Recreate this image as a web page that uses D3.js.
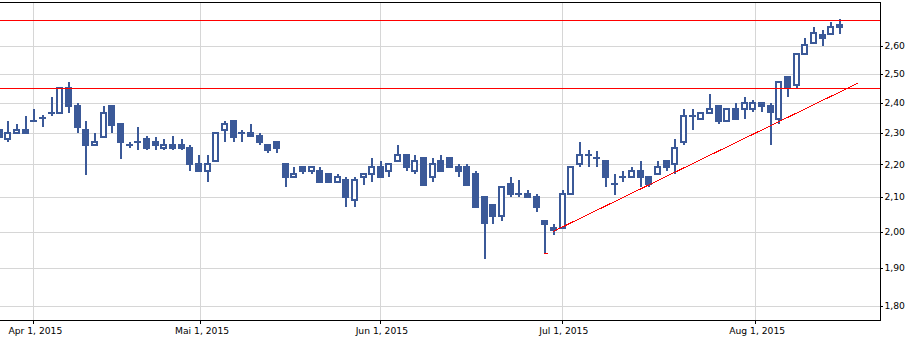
<!DOCTYPE html>
<html>
<head>
<meta charset="utf-8">
<script src="https://cdn.jsdelivr.net/npm/d3@7"></script>
<style>
  html, body { margin: 0; padding: 0; background: #fff; }
  svg { display: block; }
  .axis text { font-family: "DejaVu Sans", Verdana, sans-serif; font-size: 9.2px; fill: #000; }
</style>
</head>
<body>
<svg id="chart" width="923" height="337"></svg>
<script>
// daily candles, 26 Mar 2015 .. 14 Aug 2015 (trading days only)
const opens = [
  2.31, 2.28, 2.30, 2.31, 2.34, 2.35, 2.365, 2.365, 2.45, 2.39,
  2.31, 2.26, 2.285, 2.39, 2.33, 2.26, 2.27, 2.28, 2.27, 2.25,
  2.26, 2.26, 2.25, 2.20, 2.18, 2.21, 2.31, 2.34, 2.30, 2.30,
  2.29, 2.26, 2.27, 2.20, 2.16, 2.19, 2.18, 2.18, 2.17, 2.145,
  2.15, 2.09, 2.16, 2.17, 2.19, 2.18, 2.21, 2.23, 2.18, 2.22,
  2.16, 2.21, 2.22, 2.19, 2.19, 2.17, 2.10, 2.075, 2.045, 2.14,
  2.11, 2.11, 2.10, 2.03, 2.01, 2.01, 2.11, 2.20, 2.23, 2.22,
  2.21, 2.14, 2.16, 2.16, 2.18, 2.16, 2.17, 2.21, 2.20, 2.27,
  2.355, 2.345, 2.365, 2.39, 2.34, 2.38, 2.38, 2.38, 2.40, 2.39,
  2.345, 2.49, 2.46, 2.57, 2.61, 2.64, 2.645, 2.67
];
const highs = [
  2.31, 2.34, 2.33, 2.355, 2.38, 2.36, 2.42, 2.45, 2.47, 2.40,
  2.34, 2.30, 2.39, 2.39, 2.33, 2.27, 2.32, 2.29, 2.285, 2.28,
  2.29, 2.28, 2.26, 2.23, 2.23, 2.30, 2.34, 2.34, 2.31, 2.33,
  2.30, 2.26, 2.27, 2.20, 2.19, 2.19, 2.19, 2.19, 2.17, 2.17,
  2.16, 2.16, 2.17, 2.22, 2.21, 2.20, 2.26, 2.23, 2.23, 2.22,
  2.22, 2.23, 2.22, 2.20, 2.20, 2.18, 2.10, 2.075, 2.13, 2.16,
  2.15, 2.12, 2.11, 2.03, 2.02, 2.12, 2.19, 2.27, 2.245, 2.24,
  2.21, 2.17, 2.18, 2.19, 2.21, 2.16, 2.21, 2.21, 2.28, 2.38,
  2.38, 2.365, 2.43, 2.39, 2.38, 2.40, 2.42, 2.41, 2.40, 2.40,
  2.47, 2.49, 2.57, 2.63, 2.67, 2.66, 2.69, 2.70
];
const lows = [
  2.285, 2.27, 2.30, 2.30, 2.335, 2.32, 2.355, 2.365, 2.365, 2.30,
  2.165, 2.26, 2.285, 2.30, 2.215, 2.25, 2.245, 2.245, 2.245, 2.245,
  2.245, 2.245, 2.18, 2.18, 2.145, 2.21, 2.27, 2.27, 2.27, 2.29,
  2.26, 2.235, 2.235, 2.13, 2.16, 2.17, 2.17, 2.145, 2.145, 2.145,
  2.07, 2.07, 2.135, 2.145, 2.16, 2.16, 2.21, 2.18, 2.17, 2.135,
  2.145, 2.18, 2.19, 2.16, 2.135, 2.07, 1.925, 2.02, 2.03, 2.10,
  2.10, 2.10, 2.055, 1.94, 1.99, 2.01, 2.11, 2.19, 2.19, 2.19,
  2.13, 2.105, 2.145, 2.16, 2.13, 2.13, 2.17, 2.18, 2.17, 2.26,
  2.31, 2.345, 2.365, 2.33, 2.34, 2.345, 2.345, 2.37, 2.37, 2.26,
  2.33, 2.42, 2.45, 2.57, 2.61, 2.60, 2.645, 2.645
];
const closes = [
  2.285, 2.30, 2.31, 2.30, 2.34, 2.35, 2.365, 2.45, 2.39, 2.32,
  2.26, 2.27, 2.365, 2.325, 2.27, 2.26, 2.27, 2.25, 2.26, 2.26,
  2.25, 2.25, 2.20, 2.18, 2.20, 2.30, 2.33, 2.285, 2.30, 2.29,
  2.27, 2.245, 2.25, 2.16, 2.17, 2.18, 2.19, 2.145, 2.145, 2.16,
  2.10, 2.15, 2.17, 2.19, 2.16, 2.20, 2.23, 2.19, 2.21, 2.135,
  2.20, 2.18, 2.19, 2.18, 2.135, 2.07, 2.025, 2.045, 2.13, 2.11,
  2.11, 2.10, 2.07, 2.02, 2.003, 2.11, 2.19, 2.23, 2.23, 2.22,
  2.16, 2.14, 2.16, 2.18, 2.16, 2.14, 2.19, 2.19, 2.25, 2.355,
  2.355, 2.365, 2.38, 2.34, 2.38, 2.345, 2.40, 2.40, 2.39, 2.37,
  2.47, 2.455, 2.57, 2.605, 2.65, 2.63, 2.67, 2.68
];

const firstDay = "2015-03-26";
const holidays = ["2015-04-03", "2015-04-06", "2015-05-01", "2015-06-04"];

const monthTicks = ["2015-04-01", "2015-05-01", "2015-06-01", "2015-07-01", "2015-08-01"];
const monthLabels = ["Apr 1, 2015", "Mai 1, 2015", "Jun 1, 2015", "Jul 1, 2015", "Aug 1, 2015"];
const priceTicks = [1.8, 1.9, 2.0, 2.1, 2.2, 2.3, 2.4, 2.5, 2.6];

// resistance lines and the support trend line (day index, price)
const levels = [2.696, 2.45];
const trendLine = [[64, 2.0], [99.2, 2.467]];
const trendStub = [[63, 1.94], [63.45, 1.937]];

const width = 923;
const height = 337;
const margin = { top: 2.5, right: 42.5, bottom: 16.5, left: 0 };
const plotW = width - margin.left - margin.right;
const plotH = height - margin.top - margin.bottom;

const blue = "#3b5998";
const red = "#ff0000";
const grid = "#d6d6d6";

// trading days
const parse = d3.timeParse("%Y-%m-%d");
const fmt = d3.timeFormat("%Y-%m-%d");
const days = [];
let cur = parse(firstDay);
while (days.length < closes.length) {
  const wd = cur.getDay();
  if (wd !== 0 && wd !== 6 && !holidays.includes(fmt(cur))) days.push(new Date(cur));
  cur = d3.timeDay.offset(cur, 1);
}

// position of a calendar date on the trading-day axis
function dayIndex(date) {
  for (let i = 0; i < days.length - 1; i++) {
    if (date >= days[i] && date <= days[i + 1]) {
      return i + (date - days[i]) / (days[i + 1] - days[i]);
    }
  }
  return days.length - 1;
}

const candles = closes.map((c, i) => ({
  i: i,
  date: days[i],
  open: opens[i],
  high: highs[i],
  low: lows[i],
  close: c,
}));

const svg = d3.select("#chart");

let x = d3.scaleLinear().domain([0.15, 101.8]).range([margin.left, margin.left + plotW]);
// log price axis; the value range runs to the very top of the svg
let y = d3.scaleLog().domain([1.7635, 2.7749]).range([margin.top + plotH, 0]);

svg.append("defs").append("clipPath").attr("id", "plot")
  .append("rect")
  .attr("x", margin.left).attr("y", margin.top)
  .attr("width", plotW).attr("height", plotH);

// gridlines
const gridG = svg.append("g").attr("shape-rendering", "crispEdges");
gridG.selectAll("line.h").data(priceTicks).enter().append("line")
  .attr("class", "h")
  .attr("x1", margin.left).attr("x2", margin.left + plotW)
  .attr("y1", (d) => Math.round(y(d)) + 0.5).attr("y2", (d) => Math.round(y(d)) + 0.5)
  .attr("stroke", grid).attr("stroke-width", 1);

const tickIdx = monthTicks.map((d) => dayIndex(parse(d)));
gridG.selectAll("line.v").data(tickIdx).enter().append("line")
  .attr("class", "v")
  .attr("x1", (d) => Math.round(x(d)) + 0.5).attr("x2", (d) => Math.round(x(d)) + 0.5)
  .attr("y1", margin.top).attr("y2", margin.top + plotH)
  .attr("stroke", grid).attr("stroke-width", 1);

const plot = svg.append("g").attr("clip-path", "url(#plot)");

// candles
const bw = 5;
const cg = plot.selectAll("g.candle").data(candles).enter().append("g")
  .attr("class", "candle")
  .attr("shape-rendering", "crispEdges");

cg.append("line")
  .attr("x1", (d) => Math.round(x(d.i)) + 0.5)
  .attr("x2", (d) => Math.round(x(d.i)) + 0.5)
  .attr("y1", (d) => y(d.high))
  .attr("y2", (d) => y(d.low))
  .attr("stroke", blue)
  .attr("stroke-width", 2);

cg.append("rect")
  .attr("x", (d) => Math.round(x(d.i)) + 0.5 - bw / 2)
  .attr("y", (d) => y(Math.max(d.open, d.close)))
  .attr("width", bw)
  .attr("height", (d) => Math.max(0.01, y(Math.min(d.open, d.close)) - y(Math.max(d.open, d.close))))
  .attr("fill", (d) => (d.close >= d.open ? "#fff" : blue))
  .attr("stroke", blue)
  .attr("stroke-width", 2);

// red lines
plot.selectAll("line.level").data(levels).enter().append("line")
  .attr("class", "level")
  .attr("x1", margin.left).attr("x2", margin.left + plotW)
  .attr("y1", (d) => Math.round(y(d)) + 0.5).attr("y2", (d) => Math.round(y(d)) + 0.5)
  .attr("stroke", red).attr("stroke-width", 1)
  .attr("shape-rendering", "crispEdges");

const line = d3.line().x((d) => x(d[0])).y((d) => y(d[1]));
[trendLine, trendStub].forEach((pts) => {
  plot.append("path")
    .attr("d", line(pts))
    .attr("fill", "none")
    .attr("stroke", red)
    .attr("stroke-width", 1)
    .attr("shape-rendering", "crispEdges");
});

// frame: top, right, bottom
const frame = svg.append("g").attr("shape-rendering", "crispEdges");
frame.append("path")
  .attr("d", `M${margin.left},${margin.top}H${margin.left + plotW}V${margin.top + plotH}H${margin.left}`)
  .attr("fill", "none").attr("stroke", "#000").attr("stroke-width", 1);

// axes
const xAxis = svg.append("g")
  .attr("class", "axis")
  .attr("transform", `translate(0, ${margin.top + plotH})`)
  .call(
    d3.axisBottom(x)
      .tickValues(tickIdx)
      .tickFormat((d, i) => monthLabels[i])
      .tickSize(3)
      .tickSizeOuter(0)
  );
xAxis.select(".domain").remove();
xAxis.selectAll("text").attr("y", 13.5).attr("dy", 0).attr("dx", 1.5);

const yAxis = svg.append("g")
  .attr("class", "axis")
  .attr("transform", `translate(${margin.left + plotW}, 0)`)
  .call(
    d3.axisRight(y)
      .tickValues(priceTicks)
      .tickFormat((d) => d.toFixed(2).replace(".", ","))
      .tickSize(2)
      .tickPadding(2)
      .tickSizeOuter(0)
  );
yAxis.select(".domain").remove();
yAxis.selectAll("line").attr("shape-rendering", "crispEdges");
xAxis.selectAll("line").attr("shape-rendering", "crispEdges");
</script>
</body>
</html>
